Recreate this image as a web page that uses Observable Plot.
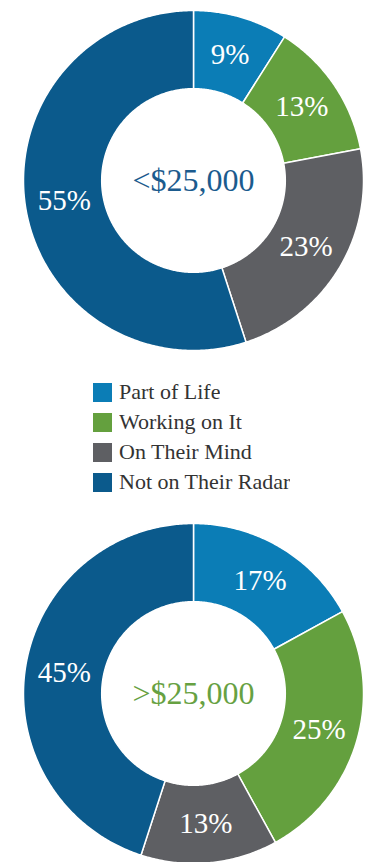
<!DOCTYPE html>
<html><head><meta charset="utf-8">
<script src="https://cdn.jsdelivr.net/npm/d3@7"></script>
<script src="https://cdn.jsdelivr.net/npm/@observablehq/plot@0.6"></script>
<style>
html,body{margin:0;padding:0;background:#fff;}
body{width:365px;height:862px;overflow:hidden;font-family:"Liberation Serif","DejaVu Serif",serif;}
#legend{height:140px;box-sizing:border-box;padding:12px 0 0 93px;}
.lg-swatch{height:30px;margin:0 !important;padding:0 !important;display:flex;align-items:center;}
.lg-swatch svg{margin-right:7px !important;}
svg{display:block;}
</style></head><body>
<div id="top"></div><div id="legend"></div><div id="bottom"></div>
<script>
const categories = ["Part of Life", "Working on It", "On Their Mind", "Not on Their Radar"];
const lowIncome = [9, 13, 23, 55];
const highIncome = [17, 25, 13, 45];
const centerLabels = ["<$25,000", ">$25,000"];

const palette = ["#0b7db6", "#64a03e", "#5e5f63", "#0b5a8c"];
const centerColors = ["#1b5b8e", "#67a142"];
const FONT = '"Liberation Serif", "DejaVu Serif", serif';
const R0 = 0.54, R1 = 1;

function slices(values) {
  const arcs = d3.pie().sort(null).value(d => d)(values);
  return arcs.map((p, i) => {
    const n = Math.max(4, Math.ceil((p.endAngle - p.startAngle) / 0.01));
    const outer = d3.range(n + 1).map(k => {
      const a = p.startAngle + (p.endAngle - p.startAngle) * k / n;
      return [R1 * Math.sin(a), -R1 * Math.cos(a)];
    });
    const inner = outer.map(([x, y]) => [x * R0, y * R0]).reverse();
    const ring = [...outer, ...inner, outer[0]];
    const mid = (p.startAngle + p.endAngle) / 2, rm = (R0 + R1) / 2;
    return {
      type: "Feature",
      properties: {category: categories[i], value: values[i], lx: rm * Math.sin(mid), ly: -rm * Math.cos(mid)},
      geometry: {type: "Polygon", coordinates: [ring]}
    };
  });
}

const domain = {type: "MultiPoint", coordinates: [[-R1, -R1], [R1, R1]]};

function donut(values, label, labelColor, m) {
  const feats = slices(values);
  return Plot.plot({
    width: 365, height: m.height,
    marginLeft: 23, marginRight: 2, marginTop: m.top, marginBottom: m.bottom,
    projection: {type: "identity", domain},
    color: {domain: categories, range: palette},
    style: {fontFamily: FONT, background: "white"},
    marks: [
      Plot.geo(feats, {fill: d => d.properties.category, stroke: "white", strokeWidth: 1.5}),
      Plot.text(feats, {x: d => d.properties.lx, y: d => d.properties.ly, text: d => d.properties.value + "%",
        fill: "white", fontSize: 29, fontFamily: FONT}),
      Plot.text([label], {frameAnchor: "middle", text: d => d, fill: labelColor, fontSize: 32, fontFamily: FONT})
    ]
  });
}

document.getElementById("top").append(donut(lowIncome, centerLabels[0], centerColors[0], {height: 365, top: 10, bottom: 15}));
document.getElementById("legend").append(Plot.legend({
  color: {domain: categories, range: palette},
  legend: "swatches", columns: 1, swatchSize: 19, className: "lg",
  style: {fontSize: "22px", fontFamily: FONT, color: "#333"}
}));
document.getElementById("bottom").append(donut(highIncome, centerLabels[1], centerColors[1], {height: 360, top: 18, bottom: 2}));
</script>
</body></html>
